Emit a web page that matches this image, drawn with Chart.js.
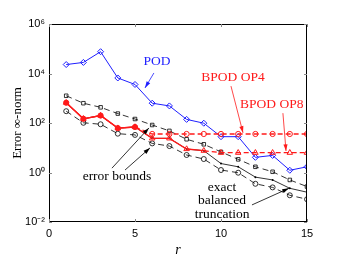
<!DOCTYPE html>
<html lang="en">
<head>
    <meta charset="UTF-8">
    <title>Error inf-norm vs r</title>
    <script src="https://cdn.jsdelivr.net/npm/chart.js"></script>
    <style>
        html, body { margin: 0; padding: 0; background: #fff; }
        #wrap { width: 346px; height: 259px; }
    </style>
</head>
<body>
    <div id="wrap"><canvas id="err-chart"></canvas></div>

    <script>
        // Order r of the reduced model
        const r = [1, 2, 3, 4, 5, 6, 7, 8, 9, 10, 11, 12, 13, 14, 15];

        // Error infinity-norm
        const pod      = [2.3e4, 2.8e4, 7.6e4, 6.6e3, 3.6e3, 630, 490, 140, 98, 28, 28, 4.1, 4.9, 1.23, 1.7];
        const bpodOp4  = [660, 148, 200, 62, 69, 36, 36, 36, 36, 36, 36, 36, 36, 36, 36];
        const bpodOp8  = [660, 148, 200, 62, 69, 24, 24, 8.9, 7.6, 6.3, 6.3, 6.3, 6.3, 6.3, 6.3];
        const exactBT  = [660, 148, 200, 62, 69, 24, 24, 8.9, 7.6, 2.3, 1.7, 0.65, 0.50, 0.23, 0.16];
        const upperBnd = [1260, 630, 430, 240, 145, 83, 48, 22, 13.8, 6.8, 3.4, 1.7, 1.07, 0.50, 0.27];
        const lowerBnd = [300, 102, 89, 37, 33, 15, 11.7, 5.1, 3.5, 1.26, 0.98, 0.35, 0.25, 0.12, 0.083];

        const xTicks = [0, 5, 10, 15];
        const yTicks = [1e-2, 1e0, 1e2, 1e4, 1e6];
        const yTickLabels = ['10\u207B\u00B2', '10\u2070', '10\u00B2', '10\u2074', '10\u2076'];

        // Text labels and arrows, in data coordinates [r, value]
        const labels = [
            { text: 'POD', at: [6.28, 3.2e4], color: '#1f1fff' },
            { text: 'BPOD OP4', at: [10.7, 7.2e3], color: '#ff1a1a' },
            { text: 'BPOD OP8', at: [12.95, 540], color: '#ff1a1a' },
            { text: 'error bounds', at: [3.95, 0.72], color: '#000' },
            { text: 'exact', at: [10.06, 0.26], color: '#000' },
            { text: 'balanced', at: [10.06, 0.072], color: '#000' },
            { text: 'truncation', at: [10.06, 0.02], color: '#000' }
        ];
        const arrows = [
            { from: [6.10, 1.05e4], to: [5.58, 2.6e3], color: '#1f1fff' },
            { from: [10.58, 3.1e3], to: [11.28, 40], color: '#ff1a1a' },
            { from: [13.6, 250], to: [13.78, 7.4], color: '#ff1a1a' },
            { from: [3.66, 1.5], to: [5.81, 63], color: '#000' },
            { from: [4.42, 1.26], to: [5.87, 9.8], color: '#000' },
            { from: [11.8, 0.049], to: [13.95, 0.23], color: '#000' }
        ];

        const toXY = (xs, ys) => xs.map((x, i) => ({ x: x, y: ys[i] }));
        const red = '#ff1a1a', blue = '#1f1fff';

        // inward ticks, box and annotations
        const framePlugin = {
            id: 'frame',
            afterDraw(chart) {
                const { ctx, chartArea: a, scales: { x, y } } = chart;
                ctx.save();
                ctx.strokeStyle = '#000';
                ctx.lineWidth = 1;
                ctx.strokeRect(a.left + 0.5, a.top + 0.5, a.right - a.left - 1, a.bottom - a.top - 1);
                ctx.strokeStyle = '#888';
                ctx.beginPath();
                xTicks.forEach(v => {
                    const px = Math.round(x.getPixelForValue(v)) + 0.5;
                    ctx.moveTo(px, a.bottom); ctx.lineTo(px, a.bottom - 3);
                    ctx.moveTo(px, a.top); ctx.lineTo(px, a.top + 3);
                });
                yTicks.forEach(v => {
                    const py = Math.round(y.getPixelForValue(v)) + 0.5;
                    ctx.moveTo(a.left, py); ctx.lineTo(a.left + 3, py);
                    ctx.moveTo(a.right, py); ctx.lineTo(a.right - 3, py);
                });
                ctx.stroke();

                arrows.forEach(ar => {
                    const x0 = x.getPixelForValue(ar.from[0]), y0 = y.getPixelForValue(ar.from[1]);
                    const x1 = x.getPixelForValue(ar.to[0]), y1 = y.getPixelForValue(ar.to[1]);
                    const ang = Math.atan2(y1 - y0, x1 - x0);
                    ctx.strokeStyle = ar.color;
                    ctx.fillStyle = ar.color;
                    ctx.lineWidth = 0.8;
                    ctx.beginPath();
                    ctx.moveTo(x0, y0); ctx.lineTo(x1, y1);
                    ctx.stroke();
                    ctx.beginPath();
                    ctx.moveTo(x1, y1);
                    ctx.lineTo(x1 - 7 * Math.cos(ang - 0.3), y1 - 7 * Math.sin(ang - 0.3));
                    ctx.lineTo(x1 - 7 * Math.cos(ang + 0.3), y1 - 7 * Math.sin(ang + 0.3));
                    ctx.closePath();
                    ctx.fill();
                });

                ctx.font = '13.5px "Liberation Serif", serif';
                ctx.textAlign = 'center';
                ctx.textBaseline = 'middle';
                labels.forEach(l => {
                    ctx.fillStyle = l.color;
                    ctx.fillText(l.text, x.getPixelForValue(l.at[0]), y.getPixelForValue(l.at[1]));
                });
                ctx.restore();
            }
        };

        new Chart(document.getElementById('err-chart'), {
            type: 'line',
            data: {
                datasets: [
                    {
                        label: 'BPOD OP4',
                        data: toXY(r, bpodOp4),
                        borderColor: red,
                        borderWidth: 1.3,
                        pointStyle: 'circle',
                        pointRadius: 2.6,
                        pointBorderWidth: 1,
                        pointBorderColor: red,
                        pointBackgroundColor: c => c.dataIndex < 5 ? red : 'rgba(0,0,0,0)',
                        segment: { borderDash: c => c.p0DataIndex >= 4 ? [5, 3] : undefined }
                    },
                    {
                        label: 'BPOD OP8',
                        data: toXY(r, bpodOp8),
                        borderColor: red,
                        borderWidth: 1.3,
                        pointStyle: 'triangle',
                        pointRadius: 3.2,
                        pointBorderWidth: 1,
                        pointBorderColor: red,
                        pointBackgroundColor: 'rgba(0,0,0,0)',
                        segment: { borderDash: c => c.p0DataIndex >= 8 ? [5, 3] : undefined }
                    },
                    {
                        label: 'POD',
                        data: toXY(r, pod),
                        borderColor: blue,
                        borderWidth: 1,
                        pointStyle: 'rectRot',
                        pointRadius: 3,
                        pointBorderWidth: 1,
                        pointBorderColor: blue,
                        pointBackgroundColor: 'rgba(0,0,0,0)'
                    },
                    {
                        label: 'exact balanced truncation',
                        data: toXY(r, exactBT),
                        borderColor: '#000',
                        borderWidth: 0.8,
                        pointStyle: 'circle',
                        pointRadius: 1,
                        pointBorderWidth: 0,
                        pointBackgroundColor: '#000'
                    },
                    {
                        label: 'upper bound',
                        data: toXY(r, upperBnd),
                        borderColor: '#000',
                        borderWidth: 0.8,
                        borderDash: [6, 4],
                        pointStyle: 'rect',
                        pointRadius: 2.5,
                        pointBorderWidth: 0.8,
                        pointBorderColor: '#000',
                        pointBackgroundColor: 'rgba(0,0,0,0)'
                    },
                    {
                        label: 'lower bound',
                        data: toXY(r, lowerBnd),
                        borderColor: '#000',
                        borderWidth: 0.8,
                        borderDash: [6, 4],
                        pointStyle: 'circle',
                        pointRadius: 2.5,
                        pointBorderWidth: 0.8,
                        pointBorderColor: '#000',
                        pointBackgroundColor: 'rgba(0,0,0,0)'
                    }
                ]
            },
            options: {
                responsive: true,
                maintainAspectRatio: false,
                animation: false,
                layout: { padding: { left: 10, top: 24, right: 39, bottom: 0 } },
                plugins: {
                    legend: { display: false },
                    tooltip: { enabled: false }
                },
                scales: {
                    x: {
                        type: 'linear',
                        min: 0,
                        max: 15,
                        afterBuildTicks: s => { s.ticks = xTicks.map(v => ({ value: v })); },
                        afterFit: s => { s.height = 37; },
                        grid: { display: false, drawTicks: false },
                        border: { display: false },
                        ticks: {
                            padding: 5,
                            color: '#000',
                            font: { family: '"Liberation Sans", sans-serif', size: 11 }
                        },
                        title: {
                            display: true,
                            text: 'r',
                            color: '#000',
                            padding: { top: 0, bottom: 0 },
                            font: { family: '"Liberation Serif", serif', size: 14, style: 'italic' }
                        }
                    },
                    y: {
                        type: 'logarithmic',
                        min: 1e-2,
                        max: 1e6,
                        afterBuildTicks: s => { s.ticks = yTicks.map(v => ({ value: v })); },
                        afterFit: s => { s.width = 39; },
                        grid: { display: false, drawTicks: false },
                        border: { display: false },
                        ticks: {
                            padding: 4,
                            color: '#000',
                            font: { family: '"Liberation Sans", sans-serif', size: 11 },
                            callback: v => yTickLabels[yTicks.indexOf(v)] ?? ''
                        },
                        title: {
                            display: true,
                            text: 'Error \u221E-norm',
                            color: '#000',
                            padding: { top: 0, bottom: 0 },
                            font: { family: '"Liberation Serif", serif', size: 13 }
                        }
                    }
                }
            },
            plugins: [framePlugin]
        });
    </script>
</body>
</html>
